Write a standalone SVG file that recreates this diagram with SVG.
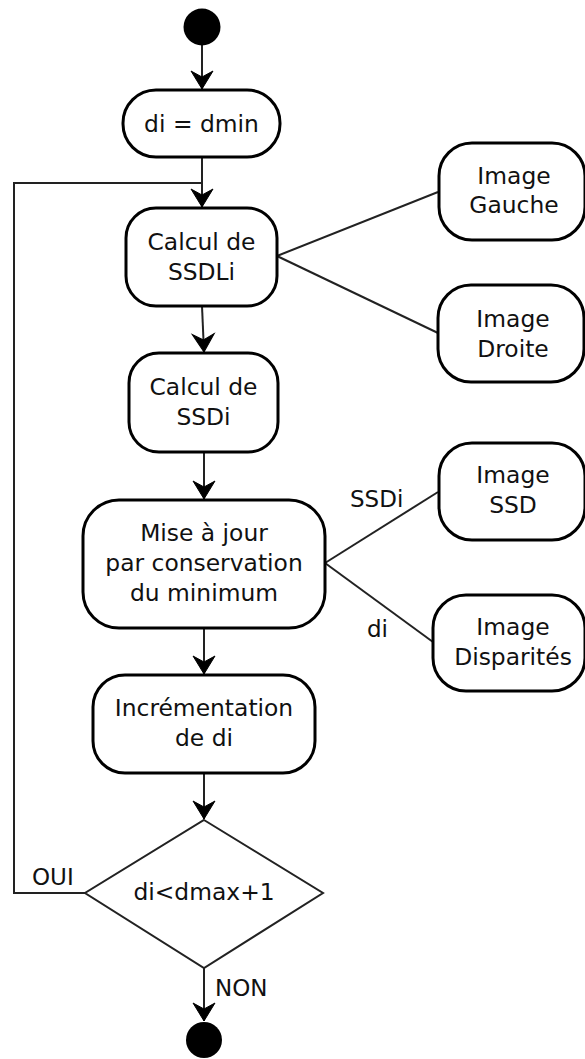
<svg xmlns="http://www.w3.org/2000/svg" width="585" height="1059" viewBox="0 0 585 1059">
<defs>
<marker id="arr" markerUnits="userSpaceOnUse" markerWidth="26" markerHeight="26" viewBox="-20 -13 22 26" refX="0" refY="0" orient="auto">
<path d="M0,0 L-18,-11 L-12,0 L-18,11 Z" fill="#000" stroke="#000" stroke-width="1" stroke-linejoin="miter"/>
</marker>
<style>
.box{fill:#fff;stroke:#000;stroke-width:3}
.t{font-family:"DejaVu Sans",sans-serif;font-size:23.4px;fill:#111;text-anchor:middle}
.lbl{font-family:"DejaVu Sans",sans-serif;font-size:23px;fill:#111}
.c{fill:none;stroke:#222;stroke-width:2}
.a{fill:none;stroke:#222;stroke-width:2;marker-end:url(#arr)}
</style>
</defs>
<rect width="585" height="1059" fill="#fff"/>
<g id="connectors">
<line class="a" x1="202" y1="45" x2="202" y2="89"/>
<line class="a" x1="202" y1="157" x2="202" y2="207"/>
<polyline class="c" points="85,893 14,893 14,183 202,183"/>
<line class="a" x1="202" y1="306" x2="204" y2="352"/>
<line class="a" x1="204" y1="452" x2="204" y2="499"/>
<line class="a" x1="204" y1="628" x2="204" y2="674"/>
<line class="a" x1="204" y1="773" x2="204" y2="819"/>
<line class="a" x1="204" y1="968" x2="204" y2="1021"/>
<line class="c" x1="277" y1="256" x2="438" y2="192"/>
<line class="c" x1="277" y1="256" x2="438" y2="333"/>
<line class="c" x1="325" y1="563" x2="438" y2="492"/>
<line class="c" x1="325" y1="563" x2="433" y2="642"/>
<text class="lbl" x="32" y="885" font-size="21">OUI</text>
<text class="lbl" x="215" y="996">NON</text>
<text class="lbl" x="350" y="507">SSDi</text>
<text class="lbl" x="367" y="637">di</text>
</g>
<g id="start"><circle cx="202" cy="27" r="18.5" fill="#000"/></g>
<g id="init"><rect class="box" x="123" y="90" width="157" height="67" rx="33"/><text class="t" x="201.5" y="132">di = dmin</text></g>
<g id="ssdli"><rect class="box" x="126" y="208" width="151" height="98" rx="30"/><text class="t" x="201.5" y="250">Calcul de</text><text class="t" x="201.5" y="280">SSDLi</text></g>
<g id="ssdi"><rect class="box" x="129" y="353" width="149" height="99" rx="30"/><text class="t" x="203.5" y="395">Calcul de</text><text class="t" x="203.5" y="425">SSDi</text></g>
<g id="maj"><rect class="box" x="83" y="500" width="242" height="128" rx="36"/><text class="t" x="204" y="541">Mise à jour</text><text class="t" x="204" y="571">par conservation</text><text class="t" x="204" y="601">du minimum</text></g>
<g id="incr"><rect class="box" x="93" y="675" width="222" height="98" rx="32"/><text class="t" x="204" y="716">Incrémentation</text><text class="t" x="204" y="746">de di</text></g>
<g id="test"><polygon points="204,820 323,893 204,968 85,893" fill="#fff" stroke="#222" stroke-width="2"/><text class="t" x="204" y="900" font-size="20">di&lt;dmax+1</text></g>
<g id="end"><circle cx="204" cy="1040" r="18" fill="#000"/></g>
<g id="gauche"><rect class="box" x="439" y="143" width="146" height="97" rx="33"/><text class="t" x="514" y="184">Image</text><text class="t" x="514" y="213">Gauche</text></g>
<g id="droite"><rect class="box" x="438" y="285" width="146" height="97" rx="33"/><text class="t" x="513" y="327">Image</text><text class="t" x="513" y="357">Droite</text></g>
<g id="imssd"><rect class="box" x="439" y="443" width="146" height="97" rx="33"/><text class="t" x="513" y="483">Image</text><text class="t" x="513" y="513">SSD</text></g>
<g id="imdisp"><rect class="box" x="433" y="595" width="152" height="96" rx="33"/><text class="t" x="513" y="635">Image</text><text class="t" x="513" y="665">Disparités</text></g>
</svg>
